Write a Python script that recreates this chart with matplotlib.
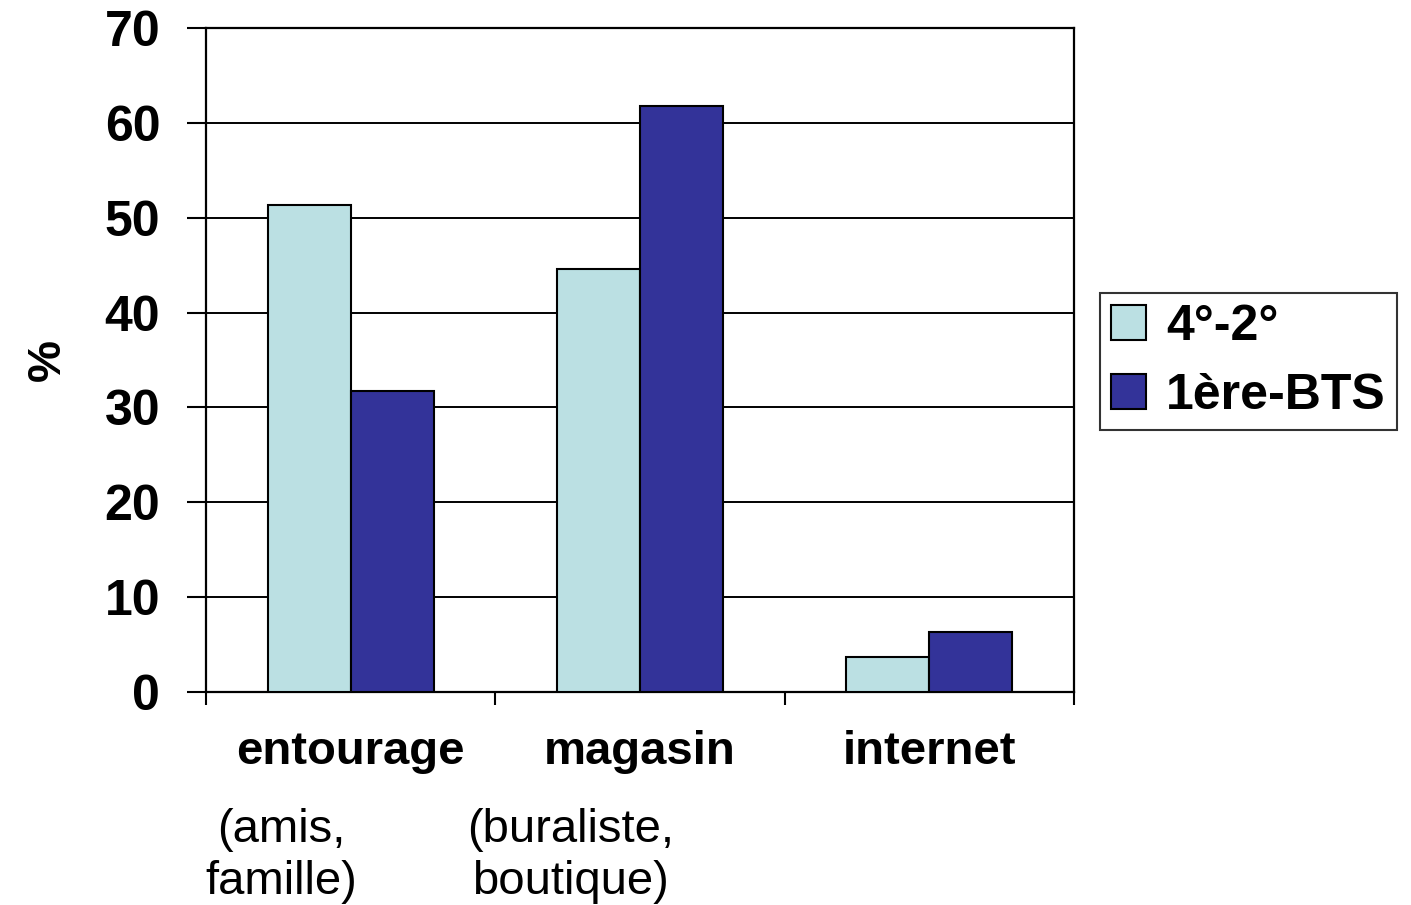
import numpy as np
import matplotlib
matplotlib.use("Agg")
import matplotlib.pyplot as plt
import matplotlib.transforms as mtransforms

# donnees
categories = ["entourage", "magasin", "internet"]
sous_labels = ["(amis,\nfamille)", "(buraliste,\nboutique)", ""]
serie_4_2 = [51.3, 44.6, 3.7]
serie_1ere_bts = [31.7, 61.8, 6.3]
noms_series = ["4°-2°", "1ère-BTS"]
couleurs = ["#BBE0E3", "#333399"]

plt.rcParams["font.family"] = ["Liberation Sans", "DejaVu Sans"]

fig = plt.figure(figsize=(14.11, 9.05), dpi=100)
ax = fig.add_axes([206 / 1411, 1 - 692 / 905, 868 / 1411, 664 / 905])

x = np.arange(len(categories))
w = 0.287
b1 = ax.bar(x - w / 2, serie_4_2, w, color=couleurs[0], edgecolor="black",
            linewidth=1.5, label=noms_series[0], zorder=3)
b2 = ax.bar(x + w / 2, serie_1ere_bts, w, color=couleurs[1], edgecolor="black",
            linewidth=1.5, label=noms_series[1], zorder=3)

ax.set_xlim(-0.5, len(categories) - 0.5)
ax.set_ylim(0, 70)
ax.set_yticks(range(0, 71, 10))
ax.yaxis.grid(True, color="black", linewidth=1.4, zorder=0)
ax.set_axisbelow(True)

for s in ax.spines.values():
    s.set_linewidth(1.6)
    s.set_color("black")

ax.tick_params(axis="y", direction="out", length=14, width=1.5,
               labelsize=36, pad=19)
for t in ax.get_yticklabels():
    t.set_fontweight("bold")

# x : etiquettes au centre, petits traits entre categories
ax.set_xticks(x)
ax.set_xticklabels(categories, fontsize=34, fontweight="bold")
ax.tick_params(axis="x", which="major", length=0, pad=27)
ax.set_xticks(np.arange(-0.5, len(categories), 1.0), minor=True)
ax.tick_params(axis="x", which="minor", direction="out", length=9, width=1.5)

trans = mtransforms.blended_transform_factory(ax.transData, ax.transAxes)
for i, lab in enumerate(sous_labels):
    if lab:
        ax.text(i - 0.24, -0.247, lab, transform=trans, ha="center",
                va="center", multialignment="center", fontsize=34,
                linespacing=1.22, clip_on=False)

ax.set_ylabel("%", fontsize=34, fontweight="bold", labelpad=25)

leg = fig.legend(handles=[b1, b2], labels=noms_series, loc="upper left",
                 bbox_to_anchor=(1100 / 1411, 1 - 293 / 905),
                 borderaxespad=0, fancybox=False, frameon=True,
                 handlelength=0.7, handleheight=0.7, handletextpad=0.4,
                 labelspacing=0.46, borderpad=0.22,
                 prop={"size": 36, "weight": "bold"})
leg.get_frame().set_edgecolor("black")
leg.get_frame().set_linewidth(1.5)

fig.savefig("out.png", dpi=100)
